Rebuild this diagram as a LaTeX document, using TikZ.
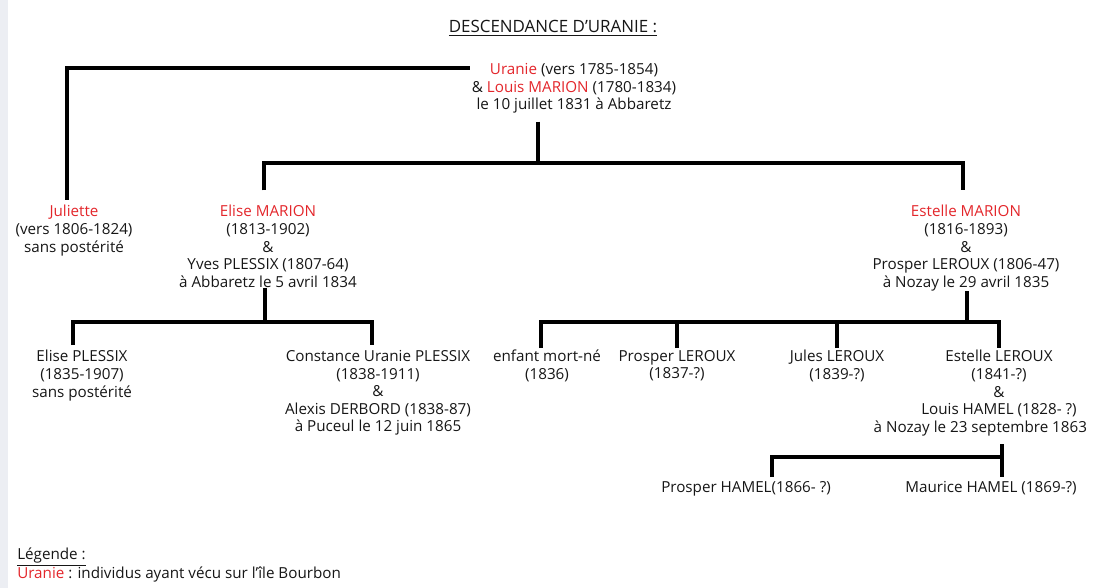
\documentclass[tikz,border=0pt]{standalone}
\usepackage{fontspec}
\setmainfont{Open Sans}
\usetikzlibrary{positioning}
\definecolor{bourbonc}{HTML}{E3262B}
\definecolor{stripc}{HTML}{ECEEF3}
\definecolor{inkc}{HTML}{161616}
\newcommand{\bourbon}[1]{\textcolor{bourbonc}{#1}}

\begin{document}
\begin{tikzpicture}[
  x=0.75pt, y=-0.75pt,
  person/.style={align=center, inner sep=0pt, anchor=north, text=inkc,
    font=\fontsize{11.4}{13.2}\selectfont},
  heading/.style={inner sep=0pt, text=inkc, font=\fontsize{11.4}{13.2}\selectfont},
  tree/.style={line width=2.7pt, draw=black}
]
  \fill[stripc] (0,0) rectangle (8,588);
  \useasboundingbox (0,0) rectangle (1102,588);

  \node[heading, font=\fontsize{12.7}{13.2}\selectfont] (title) at (553,28) {\underline{DESCENDANCE D'URANIE :}};

  % generation 1
  \node[person] (uranie) at (574,63)
    {\bourbon{Uranie} (vers 1785-1854)\\ \& \bourbon{Louis MARION} (1780-1834)\\ le 10 juillet 1831 à Abbaretz};

  % generation 2
  \node[person] (juliette) at (74,205) {\bourbon{Juliette}\\ (vers 1806-1824)\\ sans postérité};
  \node[person] (elise) at (268,205)
    {\bourbon{Elise MARION}\\ (1813-1902)\\ \&\\ Yves PLESSIX (1807-64)\\ à Abbaretz le 5 avril 1834};
  \node[person] (estelle) at (966,205)
    {\bourbon{Estelle MARION}\\ (1816-1893)\\ \&\\ Prosper LEROUX (1806-47)\\ à Nozay le 29 avril 1835};

  % generation 3
  \node[person] (eliseP) at (82,350) {Elise PLESSIX\\ (1835-1907)\\ sans postérité};
  \node[person] (constance) at (378,350)
    {Constance Uranie PLESSIX\\ (1838-1911)\\ \&\\ Alexis DERBORD (1838-87)\\ à Puceul le 12 juin 1865};
  \node[person] (mortne) at (547,350) {enfant mort-né\\ (1836)};
  \node[person] (prosper) at (677,350) {Prosper LEROUX\\ (1837-?)};
  \node[person] (jules) at (837,350) {Jules LEROUX\\ (1839-?)};
  \node[person] (estelleL) at (999,350)
    {Estelle LEROUX\\ (1841-?)\\ \&\\ Louis HAMEL (1828- ?)\\ \hspace*{-28pt}à Nozay le 23 septembre 1863};

  % generation 4
  \node[person] (prosperH) at (746,481) {Prosper HAMEL(1866- ?)};
  \node[person] (maurice) at (991,481) {Maurice HAMEL (1869-?)};

  \node[heading, anchor=west] (legend) at (17,557) {\underline{Légende :}};
  \node[heading, anchor=west] (legendline) at (17,574)
    {\bourbon{Uranie} : individus ayant vécu sur l'île Bourbon};

  % branches
  \coordinate (jtop) at (67,68);
  \coordinate (jmarion) at (538,163);
  \coordinate (jplessix) at (265,322);
  \coordinate (jleroux) at (967,322);
  \coordinate (jhamel) at (1002,457);

  \draw[tree, shorten <=1.5pt, shorten >=4pt] (uranie.west |- jtop) -| ([xshift=-5.25pt]juliette.north);
  \draw[tree, shorten <=6pt] (jmarion |- uranie.south) -- (jmarion);
  \draw[tree, shorten <=11pt, shorten >=11pt] ([xshift=-3pt]elise.north) |- (jmarion) -| ([xshift=-2.25pt]estelle.north);

  \draw[tree] (jplessix |- elise.south) -- (jplessix);
  \draw[tree, shorten <=3.7pt, shorten >=3.7pt] ([xshift=-6.75pt]eliseP.north) |- (jplessix) -| ([xshift=-4.5pt]constance.north);

  \draw[tree] (jleroux |- estelle.south) -- (jleroux);
  \draw[tree, shorten <=1.5pt, shorten >=1.5pt] ([xshift=-4.5pt]mortne.north) |- (jleroux) -| (estelleL.north);
  \draw[tree, shorten <=1.5pt] (prosper.north) -- (prosper.north |- jleroux);
  \draw[tree, shorten <=1.5pt] (jules.north) -- (jules.north |- jleroux);

  \draw[tree, shorten <=6pt, shorten >=3pt] (jhamel |- estelleL.south) -- (jhamel |- maurice.north);
  \draw[tree, shorten <=3pt] ([xshift=19.5pt]prosperH.north) |- (jhamel);
\end{tikzpicture}
\end{document}
